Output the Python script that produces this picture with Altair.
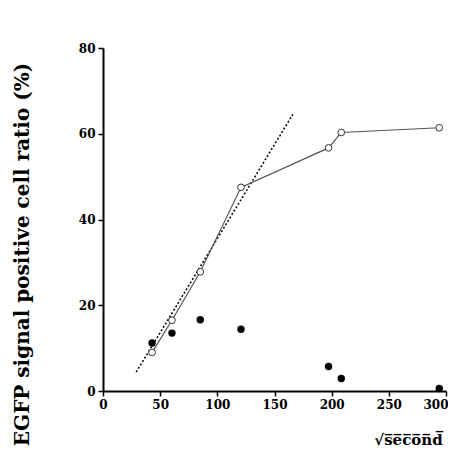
import altair as alt
import pandas as pd

x_vals = [42.9, 60.3, 85.1, 120.7, 197.3, 208.4, 294.1]
open_vals = [9.0, 16.5, 27.8, 47.5, 56.7, 60.3, 61.4]
filled_vals = [11.2, 13.5, 16.6, 14.4, 5.7, 2.9, 0.6]
fit_x = [29.0, 166.0]
fit_y = [4.4, 64.5]

df_open = pd.DataFrame({"x": x_vals, "y": open_vals})
df_filled = pd.DataFrame({"x": x_vals, "y": filled_vals})
df_fit = pd.DataFrame({"x": fit_x, "y": fit_y})

FONT = "DejaVu Serif"

xs = alt.Scale(domain=[0, 300], nice=False, zero=False)
ys = alt.Scale(domain=[0, 80], nice=False, zero=False)

xenc = alt.X("x:Q", scale=xs, axis=alt.Axis(
    values=[0, 50, 100, 150, 200, 250, 300], title="√s̅e̅c̅o̅n̅d̅",
    titleX=305, titleY=48, titleAlign="center", titleBaseline="middle",
    titleFontSize=15, labelFlush=False, labelOverlap=False,
    labelAlign=alt.ExprRef(expr="datum.value >= 300 ? 'right' : 'center'"),
    labelOffset=alt.ExprRef(expr="datum.value >= 300 ? 2 : 0")))
yenc = alt.Y("y:Q", scale=ys, axis=alt.Axis(
    values=[0, 20, 40, 60, 80], title="EGFP signal positive cell ratio (%)",
    titleX=-81, titleY=206, titleAngle=-90, titleAlign="center",
    titleBaseline="middle", titleFontSize=20, labelFlush=False))

fit = alt.Chart(df_fit).mark_line(color="black", strokeWidth=1.5, strokeDash=[2, 2]).encode(x=xenc, y=yenc)
line = alt.Chart(df_open).mark_line(color="#555555", strokeWidth=1.2).encode(x=xenc, y=yenc)
pts_open = alt.Chart(df_open).mark_point(shape="circle", filled=True, fill="white",
                                         stroke="#333333", strokeWidth=1, size=45, opacity=1).encode(x=xenc, y=yenc)
pts_filled = alt.Chart(df_filled).mark_circle(color="black", size=55, opacity=1).encode(x=xenc, y=yenc)

chart = alt.layer(fit, line, pts_open, pts_filled).properties(
    width=343, height=343,
    autosize=alt.AutoSizeParams(type="none"),
    padding={"left": 95, "top": 40, "right": 2, "bottom": 58},
).configure_view(stroke=None).configure_axis(
    grid=False, domainColor="black", domainWidth=2, tickColor="black", tickWidth=1.5,
    tickSize=5, labelFont=FONT, labelFontSize=12, labelFontWeight="bold", labelColor="black",
    titleFont=FONT, titleFontWeight="bold", titleColor="black", labelPadding=3,
)

chart.save("out.html", embed_options={"renderer": "svg", "actions": False})
